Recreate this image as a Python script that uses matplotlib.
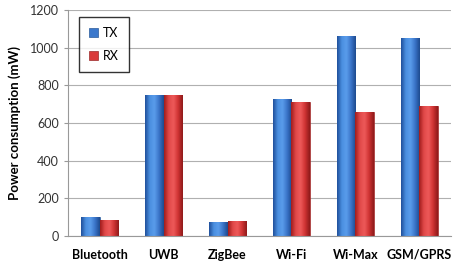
import matplotlib
matplotlib.use("Agg")
import matplotlib.pyplot as plt
import numpy as np
from matplotlib.colors import LinearSegmentedColormap

categories = ["Bluetooth", "UWB", "ZigBee", "Wi-Fi", "Wi-Max", "GSM/GPRS"]
tx = [103, 750, 75, 725, 1060, 1053]
rx = [85, 750, 79, 710, 660, 690]

plt.rcParams['font.family'] = ['Lato', 'DejaVu Sans']

fig = plt.figure(figsize=(4.58, 2.68), dpi=100)
ax = fig.add_axes([0.148, 0.119, 0.837, 0.844])

x = np.arange(len(categories))
w = 0.29

blue_cmap = LinearSegmentedColormap.from_list("b", ["#1f4f9a", "#4a8fe0", "#5a9ceb", "#3a74c8", "#1d4a8e"])
red_cmap = LinearSegmentedColormap.from_list("r", ["#a01c1c", "#e04848", "#ee5a5a", "#cf3333", "#8e1a1a"])

b1 = ax.bar(x - w / 2, tx, w, color="#3b78cc", edgecolor="#2a5a9a", linewidth=0.5, label="TX")
b2 = ax.bar(x + w / 2, rx, w, color="#d93a3a", edgecolor="#9a2a2a", linewidth=0.5, label="RX")

grad = np.linspace(0, 1, 64).reshape(1, -1)
for bars, cm in ((b1, blue_cmap), (b2, red_cmap)):
    for r in bars:
        x0, y0 = r.get_x(), r.get_y()
        im = ax.imshow(grad, cmap=cm, aspect="auto", extent=(x0, x0 + r.get_width(), y0, y0 + r.get_height()),
                       zorder=r.get_zorder() + 0.1, interpolation="bicubic")
        im.set_clip_path(r)

ax.set_xlim(-0.5, len(categories) - 0.5)
ax.set_ylim(0, 1200)
ax.set_yticks(range(0, 1201, 200))
ax.set_xticks(x)
ax.set_xticklabels(categories, fontweight="bold", fontsize=9)
ax.tick_params(axis="y", labelsize=9, colors="#333333", length=3, color="#999999")
ax.tick_params(axis="x", length=0, pad=9)
ax.yaxis.grid(True, color="#b0b0b0", linewidth=0.8)
ax.set_axisbelow(True)
for s in ["top", "right"]:
    ax.spines[s].set_visible(False)
ax.spines["left"].set_color("#999999")
ax.spines["bottom"].set_color("#999999")
ax.set_ylabel("Power consumption (mW)", fontweight="bold", fontsize=9.5, labelpad=6)

leg = ax.legend(loc="upper left", bbox_to_anchor=(0.03, 0.97), fontsize=9, frameon=True, fancybox=False,
                handlelength=0.7, handleheight=0.7, labelspacing=0.9, borderpad=0.8, handletextpad=0.4,
                borderaxespad=0)
leg.get_frame().set_edgecolor("black")
leg.get_frame().set_linewidth(1.0)

fig.savefig("out.png", dpi=100)
